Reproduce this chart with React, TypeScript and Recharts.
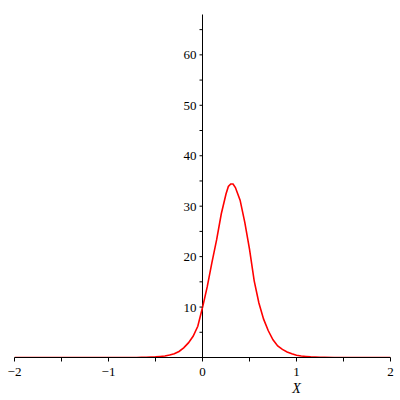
import React from 'react';
import { LineChart, Line, XAxis, YAxis, ReferenceLine } from 'recharts';

// x positions of the curve samples and the value read at each one
const xs = [
  -2, -1.5, -1, -0.8, -0.7, -0.65, -0.6, -0.55, -0.5, -0.45, -0.4, -0.35, -0.3,
  -0.25, -0.2, -0.15, -0.1, -0.05, 0, 0.05, 0.1, 0.15, 0.2, 0.25, 0.275, 0.3,
  0.325, 0.35, 0.4, 0.45, 0.5, 0.55, 0.6, 0.65, 0.7, 0.75, 0.8, 0.85, 0.9, 0.95,
  1, 1.05, 1.1, 1.15, 1.2, 1.25, 1.3, 1.4, 1.5, 2,
];
const ys = [
  0, 0, 0, 0, 0, 0.02, 0.05, 0.08, 0.12, 0.2, 0.3, 0.48, 0.75,
  1.2, 1.9, 2.9, 4.2, 6.2, 9.9, 14.0, 18.8, 23.3, 28.5, 32.4, 33.9, 34.4,
  34.4, 33.7, 31.2, 26.8, 21.5, 15.2, 10.8, 7.6, 5.3, 3.5, 2.3, 1.6, 1.1, 0.75,
  0.45, 0.3, 0.2, 0.12, 0.08, 0.05, 0.03, 0.01, 0, 0,
];

const xTicks = [-2, -1.5, -1, -0.5, 0, 0.5, 1, 1.5, 2];
const yTicks = [5, 10, 15, 20, 25, 30, 35, 40, 45, 50, 55, 60, 65];

const data = xs.map((x, i) => ({ x, y: ys[i] }));

const W = 400;
const H = 400;
// half-pixel offsets keep the 1px axis lines crisp
const margin = { top: 14.5, right: 9.5, left: 13.5, bottom: 12.5 };
const xDomain = [-2, 2];
const plotW = W - margin.left - margin.right - 1;
// pixel column where x = 0, the y axis crosses there
const axisX = margin.left + 1 + ((0 - xDomain[0]) / (xDomain[1] - xDomain[0])) * plotW;

const font = 'Liberation Serif, Times New Roman, serif';

const fmt = (v: number) => (v < 0 ? '\u2212' + Math.abs(v) : String(v));

const renderYTick = (props: any) => {
  const { y, payload } = props;
  const v = payload.value;
  return (
    <g key={'yt' + v}>
      <line x1={axisX - 3} x2={axisX} y1={y} y2={y} stroke="#000" />
      {v % 10 === 0 && (
        <text
          x={axisX - 6}
          y={y}
          dy="0.35em"
          textAnchor="end"
          fontSize={13}
          fontFamily={font}
          fill="#000"
        >
          {v}
        </text>
      )}
    </g>
  );
};

const renderXLabel = (props: any) => {
  const vb = props.viewBox;
  return (
    <text
      x={vb.x + vb.width * 0.75}
      y={vb.y + 35}
      textAnchor="middle"
      fontSize={14}
      fontStyle="italic"
      fontFamily={font}
      fill="#000"
    >
      X
    </text>
  );
};

export default function App() {
  return (
    <div
      style={{
        position: 'absolute',
        left: 0,
        top: 0,
        width: W,
        height: H,
        background: '#fff',
        fontFamily: font,
      }}
    >
      <LineChart width={W} height={H} data={data} margin={margin}>
        <XAxis
          dataKey="x"
          type="number"
          domain={xDomain}
          ticks={xTicks}
          allowDataOverflow
          height={30}
          stroke="#000"
          tickSize={4}
          tickMargin={5}
          tickFormatter={(v: number) => (Number.isInteger(v) ? fmt(v) : '')}
          tick={{ fill: '#000', fontSize: 13, fontFamily: font }}
          label={{ content: renderXLabel }}
        />
        <YAxis
          type="number"
          domain={[0, 68]}
          ticks={yTicks}
          allowDataOverflow
          width={1}
          axisLine={false}
          tickLine={false}
          tick={renderYTick}
        />
        <ReferenceLine x={0} stroke="#000" strokeWidth={1} />
        <Line
          type="linear"
          dataKey="y"
          stroke="#ff0000"
          strokeWidth={1.6}
          dot={false}
          isAnimationActive={false}
        />
      </LineChart>
    </div>
  );
}
